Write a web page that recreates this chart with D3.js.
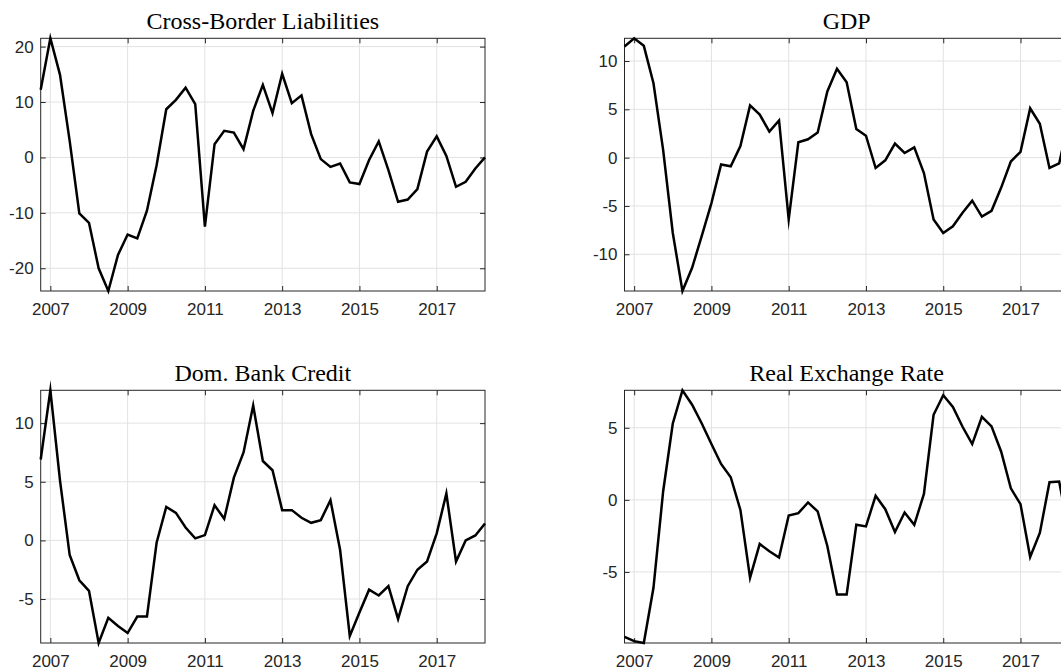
<!DOCTYPE html>
<html>
<head>
<meta charset="utf-8">
<script src="https://cdn.jsdelivr.net/npm/d3@7"></script>
<style>
  html, body { margin: 0; padding: 0; background: #ffffff; }
  svg { display: block; }
</style>
</head>
<body>
<svg id="chart" width="1061" height="671"></svg>
<script>
// Quarterly observations (2006Q4 .. 2018Q2)
const quarters = ["2006Q4",
  "2007Q1","2007Q2","2007Q3","2007Q4","2008Q1","2008Q2","2008Q3","2008Q4",
  "2009Q1","2009Q2","2009Q3","2009Q4","2010Q1","2010Q2","2010Q3","2010Q4",
  "2011Q1","2011Q2","2011Q3","2011Q4","2012Q1","2012Q2","2012Q3","2012Q4",
  "2013Q1","2013Q2","2013Q3","2013Q4","2014Q1","2014Q2","2014Q3","2014Q4",
  "2015Q1","2015Q2","2015Q3","2015Q4","2016Q1","2016Q2","2016Q3","2016Q4",
  "2017Q1","2017Q2","2017Q3","2017Q4","2018Q1","2018Q2"];

const crossBorderLiabilities = [12.2, 21.5, 14.9, 3.0, -10.1, -11.8, -20.0, -24.1, -17.6, -13.9,
  -14.6, -9.6, -1.4, 8.7, 10.4, 12.6, 9.6, -12.5, 2.4, 4.8,
  4.5, 1.5, 8.4, 13.1, 8.0, 15.1, 9.8, 11.2, 4.2, -0.3,
  -1.7, -1.1, -4.5, -4.8, -0.45, 2.9, -2.3, -8.0, -7.6, -5.7,
  1.05, 3.8, 0.27, -5.3, -4.4, -2.0, 0.0];

const gdp = [11.5, 12.35, 11.57, 7.7, 0.8, -7.8, -13.8, -11.4, -8.1, -4.7,
  -0.7, -0.9, 1.2, 5.4, 4.45, 2.7, 3.85, -6.4, 1.6, 1.9,
  2.6, 6.85, 9.2, 7.8, 2.96, 2.27, -1.07, -0.28, 1.45, 0.48,
  1.07, -1.6, -6.4, -7.8, -7.1, -5.7, -4.45, -6.1, -5.5, -3.1,
  -0.4, 0.6, 5.1, 3.5, -1.07, -0.6, 3.8];

const domBankCredit = [6.9, 12.8, 5.1, -1.25, -3.4, -4.3, -8.75, -6.6, -7.3, -7.9,
  -6.5, -6.5, -0.2, 2.86, 2.35, 1.1, 0.17, 0.45, 3.0, 1.84,
  5.35, 7.5, 11.5, 6.77, 5.98, 2.58, 2.58, 1.93, 1.5, 1.73,
  3.43, -0.82, -8.15, -6.15, -4.2, -4.7, -3.9, -6.7, -3.9, -2.5,
  -1.8, 0.6, 4.0, -1.8, 0.0, 0.42, 1.44];

const realExchangeRate = [-9.5, -9.8, -9.93, -6.1, 0.58, 5.3, 7.6, 6.6, 5.3, 3.87,
  2.49, 1.57, -0.7, -5.4, -3.06, -3.57, -4.0, -1.08, -0.92, -0.18,
  -0.8, -3.2, -6.57, -6.57, -1.73, -1.84, 0.28, -0.65, -2.23, -0.88,
  -1.73, 0.41, 5.9, 7.26, 6.45, 5.07, 3.87, 5.76, 5.1, 3.34,
  0.8, -0.3, -3.96, -2.3, 1.22, 1.27, -2.2];

const xTickValues = [2007, 2009, 2011, 2013, 2015, 2017];
const xTickLabels = ["2007", "2009", "2011", "2013", "2015", "2017"];

const titles = ["Cross-Border Liabilities", "GDP", "Dom. Bank Credit", "Real Exchange Rate"];
const yTicksCBL = [-20, -10, 0, 10, 20];
const yTicksGDP = [-10, -5, 0, 5, 10];
const yTicksDBC = [-5, 0, 5, 10];
const yTicksRER = [-5, 0, 5];

// convert quarter labels to decimal year (Q4 -> .75 etc.)
const times = quarters.map(q => +q.slice(0, 4) + (+q.slice(5) - 1) / 4);

const svg = d3.select("#chart");

const panelW = 444.3, panelH = 252.7;
const panels = [
  { title: titles[0], values: crossBorderLiabilities, yTicks: yTicksCBL, x0: 40.7, y0: 38.3 },
  { title: titles[1], values: gdp, yTicks: yTicksGDP, x0: 624.5, y0: 38.3 },
  { title: titles[2], values: domBankCredit, yTicks: yTicksDBC, x0: 40.7, y0: 390.3 },
  { title: titles[3], values: realExchangeRate, yTicks: yTicksRER, x0: 624.5, y0: 390.3 }
];

const axisColor = "#262626";
const gridColor = "#e2e2e2";
const tickFont = "'Liberation Sans', Arial, Helvetica, sans-serif";
const titleFont = "'Liberation Serif', 'Times New Roman', serif";

panels.forEach(p => {
  const g = svg.append("g");
  const x = d3.scaleLinear().domain([2006.75, 2018.25]).range([p.x0, p.x0 + panelW]);
  const ext = d3.extent(p.values);
  const y = d3.scaleLinear().domain(ext).range([p.y0 + panelH, p.y0]);

  // grid
  g.selectAll(".gx").data(xTickValues).enter().append("line")
    .attr("x1", d => x(d)).attr("x2", d => x(d))
    .attr("y1", p.y0).attr("y2", p.y0 + panelH)
    .attr("stroke", gridColor).attr("stroke-width", 1);
  g.selectAll(".gy").data(p.yTicks).enter().append("line")
    .attr("x1", p.x0).attr("x2", p.x0 + panelW)
    .attr("y1", d => y(d)).attr("y2", d => y(d))
    .attr("stroke", gridColor).attr("stroke-width", 1);

  // axes via d3 axis generators (inward ticks)
  const tickLen = 5;
  const xAxisB = d3.axisBottom(x).tickValues(xTickValues)
    .tickFormat((d, i) => xTickLabels[i]).tickSizeInner(-tickLen).tickSizeOuter(0).tickPadding(12);
  const xAxisT = d3.axisTop(x).tickValues(xTickValues)
    .tickFormat("").tickSizeInner(-tickLen).tickSizeOuter(0);
  const yAxisL = d3.axisLeft(y).tickValues(p.yTicks)
    .tickFormat(d => String(d)).tickSizeInner(-tickLen).tickSizeOuter(0).tickPadding(7);
  const yAxisR = d3.axisRight(y).tickValues(p.yTicks)
    .tickFormat("").tickSizeInner(-tickLen).tickSizeOuter(0);

  const styleAxis = sel => {
    sel.selectAll("path.domain").remove();
    sel.selectAll(".tick line").attr("stroke", axisColor).attr("stroke-width", 1);
    sel.selectAll(".tick text").attr("fill", "#262626")
      .style("font-family", tickFont).style("font-size", "17px");
  };

  g.append("g").attr("transform", `translate(0,${p.y0 + panelH})`).call(xAxisB).call(styleAxis)
    .selectAll(".tick text").attr("dy", "0.72em");
  g.append("g").attr("transform", `translate(0,${p.y0})`).call(xAxisT).call(styleAxis);
  g.append("g").attr("transform", `translate(${p.x0},0)`).call(yAxisL).call(styleAxis);
  g.append("g").attr("transform", `translate(${p.x0 + panelW},0)`).call(yAxisR).call(styleAxis);

  // box
  g.append("rect")
    .attr("x", p.x0).attr("y", p.y0).attr("width", panelW).attr("height", panelH)
    .attr("fill", "none").attr("stroke", axisColor).attr("stroke-width", 1);

  // data line
  const line = d3.line().x((d, i) => x(times[i])).y(d => y(d));
  g.append("path").datum(p.values)
    .attr("d", line)
    .attr("fill", "none").attr("stroke", "#000").attr("stroke-width", 2.5)
    .attr("stroke-linejoin", "miter").attr("stroke-miterlimit", 10);

  // title
  g.append("text")
    .attr("x", p.x0 + panelW / 2).attr("y", p.y0 - 9)
    .attr("text-anchor", "middle")
    .style("font-family", titleFont).style("font-size", "24px").attr("fill", "#000")
    .text(p.title);
});
</script>
</body>
</html>
